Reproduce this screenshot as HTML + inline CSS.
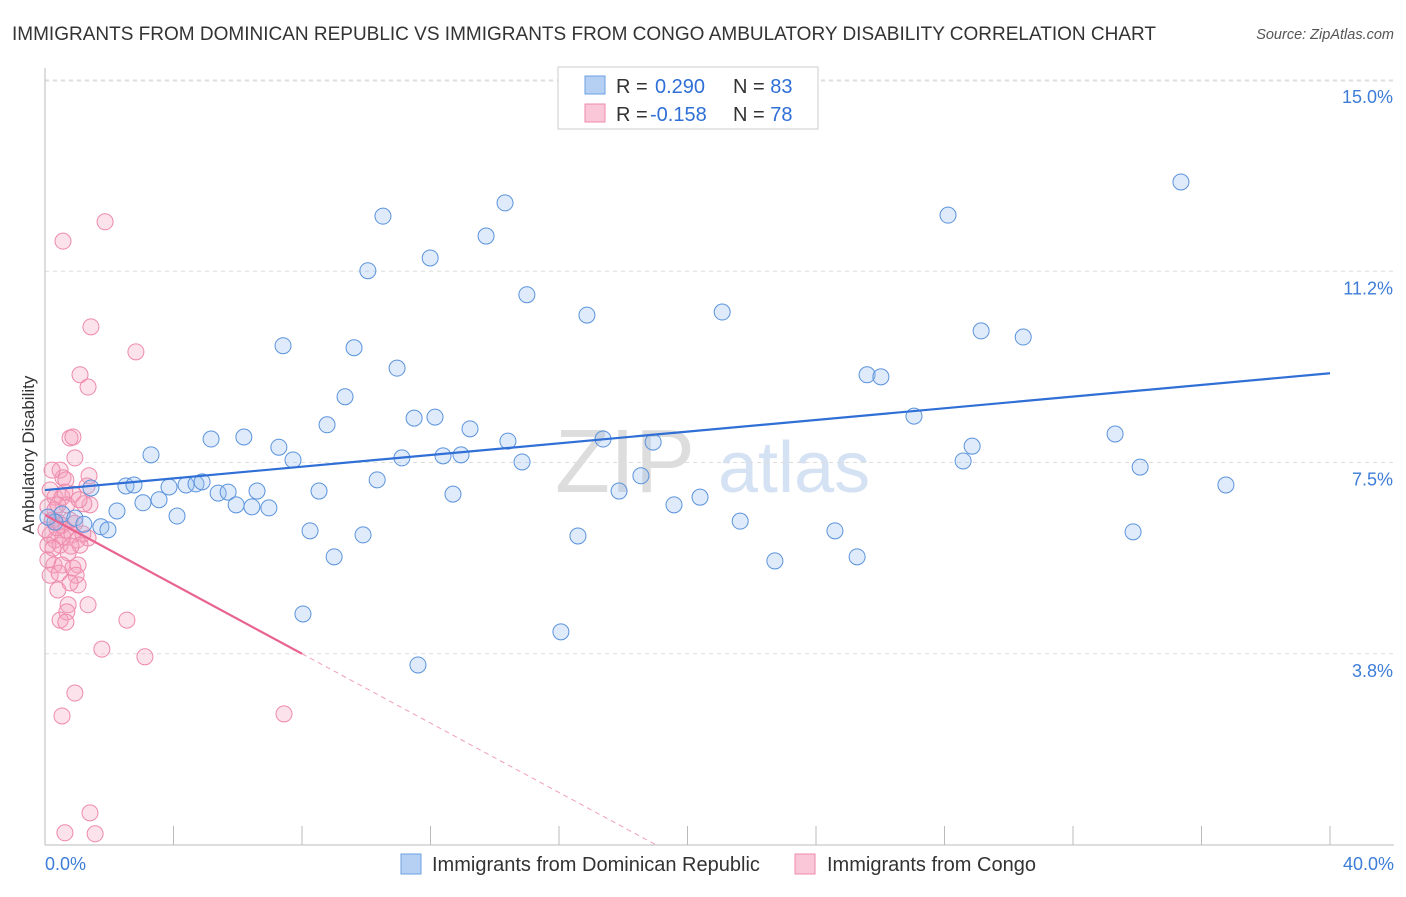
<!DOCTYPE html>
<html><head><meta charset="utf-8"><style>
body{margin:0;background:#fff;font-family:"Liberation Sans",sans-serif}
svg text{font-family:"Liberation Sans",sans-serif}
</style></head><body>
<svg id="c" width="1406" height="892">
<text x="12" y="40" font-size="19" fill="#333">IMMIGRANTS FROM DOMINICAN REPUBLIC VS IMMIGRANTS FROM CONGO AMBULATORY DISABILITY CORRELATION CHART</text>
<text x="1394" y="39" font-size="14.5" fill="#555" font-style="italic" text-anchor="end">Source: ZipAtlas.com</text>
<text x="34" y="455" font-size="17" fill="#333" text-anchor="middle" transform="rotate(-90 34 455)">Ambulatory Disability</text>
<text x="555" y="492" font-size="90" fill="#ddd" font-family="Liberation Serif">ZIP</text>
<text x="718" y="492" font-size="72" fill="#d5e2f3">atlas</text>
<g id="grid"></g><g id="axes"></g><g id="pts"></g><g id="lines"></g>
<g>
<rect x="558" y="67" width="260" height="62" fill="#fff" stroke="#ccc"/>
<rect x="585" y="76" width="20" height="18" fill="#b6d0f4" stroke="#6a9fe0"/>
<text x="616" y="93" font-size="20" fill="#333">R = <tspan x="655" fill="#2f6fd6">0.290</tspan><tspan x="733">N = </tspan><tspan fill="#2f6fd6">83</tspan></text>
<rect x="585" y="104" width="20" height="18" fill="#f9c7d7" stroke="#ee8aab"/>
<text x="616" y="121" font-size="20" fill="#333">R = <tspan x="650" fill="#2f6fd6">-0.158</tspan><tspan x="733">N = </tspan><tspan fill="#2f6fd6">78</tspan></text>
</g>
<g>
<rect x="401" y="854" width="20" height="20" fill="#b6d0f4" stroke="#6a9fe0"/>
<text x="432" y="871" font-size="20" fill="#333">Immigrants from Dominican Republic</text>
<rect x="795" y="854" width="20" height="20" fill="#f9c7d7" stroke="#ee8aab"/>
<text x="827" y="871" font-size="20" fill="#333">Immigrants from Congo</text>
</g>
</svg>
<script>
const yTicks=[3.75,7.5,11.25,15];
const yTickLabels=["3.8%","7.5%","11.2%","15.0%"];
const xTicks=[0,4,8,12,16,20,24,28,32,36,40];
const blueX=[35.36,14.32,10.52,28.11,13.73,11.99,10.05,15.00,16.87,21.08,29.14,30.45,7.41,9.62,10.96,25.59,26.02,9.34,11.49,12.14,27.05,8.78,13.23,3.30,5.17,6.19,7.28,14.41,17.37,18.93,33.31,28.86,7.72,11.11,12.39,12.95,14.85,28.58,34.09,10.34,18.55,36.76,1.43,2.52,2.77,3.86,4.39,4.70,4.89,5.39,5.70,6.60,8.53,12.70,17.87,20.39,3.05,3.55,5.95,6.44,6.97,2.24,4.11,19.58,21.64,0.53,0.93,1.21,1.74,1.96,8.25,9.90,16.59,24.59,33.87,9.00,22.72,25.28,8.03,16.06,11.61,0.31,0.09];
const blueY=[13.00,12.59,12.33,12.35,11.94,11.51,11.26,10.79,10.39,10.45,10.08,9.96,9.79,9.75,9.35,9.22,9.18,8.79,8.37,8.39,8.41,8.24,8.16,7.65,7.96,8.00,7.80,7.92,7.96,7.90,8.06,7.82,7.55,7.59,7.63,7.65,7.51,7.53,7.41,7.16,7.24,7.06,7.00,7.04,7.06,7.02,7.06,7.08,7.12,6.90,6.92,6.94,6.94,6.88,6.94,6.82,6.71,6.77,6.67,6.63,6.61,6.55,6.45,6.67,6.35,6.49,6.41,6.29,6.24,6.18,6.16,6.08,6.06,6.16,6.14,5.65,5.57,5.65,4.53,4.18,3.53,6.33,6.43];
const pinkX=[1.87,0.56,1.43,2.83,1.09,1.34,2.55,1.77,3.11,0.93,0.53,7.44,1.40,0.62,1.56,0.78,0.87,0.47,0.56,1.37,0.93,1.31,0.65,0.16,0.31,0.53,0.87,1.40,0.09,0.31,0.68,0.22,0.40,0.53,0.65,0.78,0.93,0.16,0.31,0.47,0.56,0.84,1.00,1.34,0.09,0.72,1.09,0.28,0.53,0.87,1.03,0.16,0.44,0.97,1.03,0.40,0.72,1.34,0.68,0.47,0.65,0.25,0.03,0.37,1.18,0.81,1.21,0.62,0.40,0.22,1.06,0.09,0.78];
const pinkY=[12.22,11.84,10.16,9.67,9.22,8.98,4.41,3.84,3.69,2.98,2.53,2.57,0.63,0.24,0.22,7.98,8.00,7.35,7.20,7.24,7.59,7.04,7.16,6.96,6.82,6.82,6.88,6.67,6.63,6.57,6.67,6.37,6.33,6.27,6.18,6.37,6.31,6.08,5.98,5.88,6.04,6.08,5.98,6.02,5.88,5.73,5.88,5.49,5.49,5.43,5.49,5.29,5.33,5.29,5.10,5.00,4.71,4.71,4.57,4.41,4.37,5.82,6.18,6.22,6.10,5.86,6.69,6.92,6.67,7.35,6.77,5.59,5.14];
const blueTrend=[6.96,9.25];
const pinkTrend=[6.47,-0.34];
const NS="http://www.w3.org/2000/svg";
const X=p=>45+p*(1330-45)/40, Y=v=>845-v*51;
function mk(t,a,parent){const e=document.createElementNS(NS,t);for(const k in a)e.setAttribute(k,a[k]);document.getElementById(parent).appendChild(e);return e;}
yTicks.forEach((v,i)=>{
 const l=mk('line',{x1:45,x2:1394,y1:Y(v),y2:Y(v),stroke:'#ddd','stroke-dasharray':'4,4'},'grid');
 
 
 const t=mk('text',{x:1393,y:Y(v)+23,'font-size':18,fill:'#3d7dd8','text-anchor':'end'},'grid');t.textContent=yTickLabels[i];
 
 
});
const topGrid=mk('line',{x1:45,x2:1394,y1:Y(15)+1,y2:Y(15)+1,stroke:'#ddd','stroke-dasharray':'4,4'},'grid');


const ya=mk('line',{x1:45,x2:45,y1:68,y2:845,stroke:'#bbb'},'axes');


const xa=mk('line',{x1:45,x2:1394,y1:845,y2:845,stroke:'#bbb'},'axes');


xTicks.forEach(p=>{const t=mk('line',{x1:X(p),x2:X(p),y1:826,y2:845,stroke:'#bbb'},'axes');
 
 });
const xl0=mk('text',{x:45,y:870,'font-size':18,fill:'#3d7dd8'},'axes');xl0.textContent='0.0%';


const xl1=mk('text',{x:1394,y:870,'font-size':18,fill:'#3d7dd8','text-anchor':'end'},'axes');xl1.textContent='40.0%';


pinkX.forEach((p,i)=>{const c=mk('circle',{cx:X(p),cy:Y(pinkY[i]),r:8,fill:'rgba(245,160,190,0.3)',stroke:'#ee8aab','stroke-width':1},'pts');
 
 });
blueX.forEach((p,i)=>{const c=mk('circle',{cx:X(p),cy:Y(blueY[i]),r:8,fill:'rgba(150,190,240,0.3)',stroke:'#5b93dc','stroke-width':1},'pts');
 
 });
const bl=mk('line',{x1:X(0),y1:Y(blueTrend[0]),x2:X(40),y2:Y(blueTrend[1]),stroke:'#2f6fd6','stroke-width':2.2},'lines');


const pEnd=-pinkTrend[0]/pinkTrend[1];
const pl=mk('line',{x1:X(0),y1:Y(pinkTrend[0]),x2:X(8),y2:Y(pinkTrend[0]+pinkTrend[1]*8),stroke:'#e8648f','stroke-width':2.2},'lines');


const pd=mk('line',{x1:X(8),y1:Y(pinkTrend[0]+pinkTrend[1]*8),x2:X(pEnd),y2:Y(0),stroke:'#f0a0b8','stroke-width':1,'stroke-dasharray':'5,4'},'lines');


</script>
</body></html>
